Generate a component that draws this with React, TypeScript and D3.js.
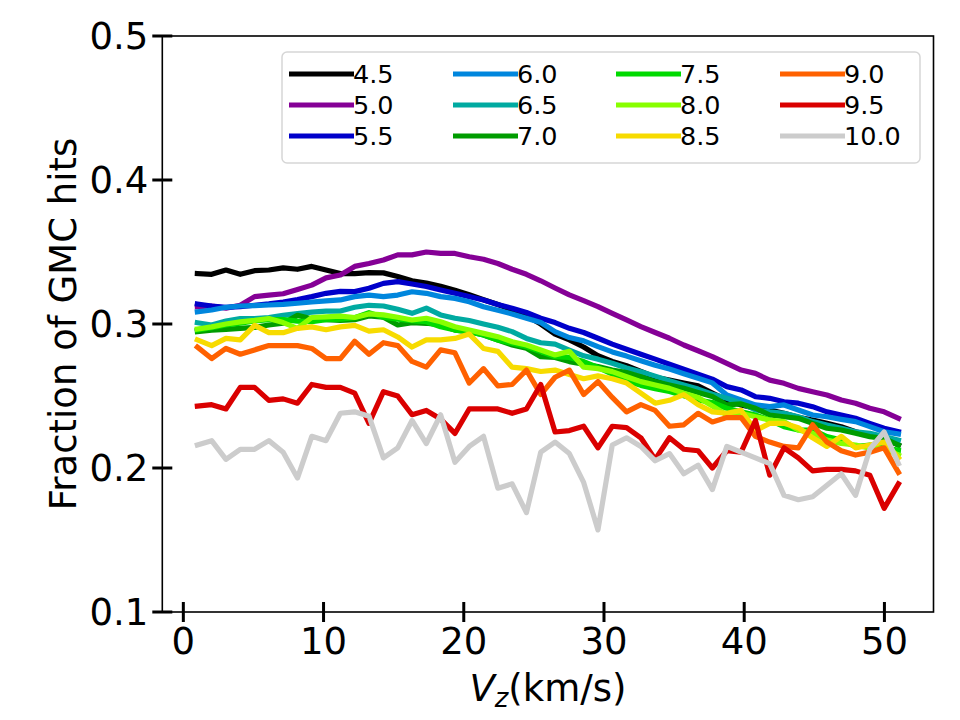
import React from 'react';
import * as d3 from 'd3';

// vertical velocity bins (km/s)
const vz = [
  1.00, 2.02, 3.04, 4.06, 5.08, 6.10, 7.12, 8.14, 9.16, 10.18,
  11.20, 12.22, 13.24, 14.27, 15.29, 16.31, 17.33, 18.35, 19.37, 20.39,
  21.41, 22.43, 23.45, 24.47, 25.49, 26.51, 27.53, 28.55, 29.57, 30.59,
  31.61, 32.63, 33.65, 34.67, 35.69, 36.71, 37.73, 38.76, 39.78, 40.80,
  41.82, 42.84, 43.86, 44.88, 45.90, 46.92, 47.94, 48.96, 49.98, 51.00,
];

const s45 = [
  0.335, 0.3345, 0.3375, 0.3345, 0.337, 0.3375, 0.339, 0.338, 0.340, 0.3375, 0.335, 0.335,
  0.3357, 0.3355, 0.333, 0.330, 0.3285, 0.3262, 0.3234, 0.3203, 0.3168, 0.3135, 0.3098, 0.3058, 0.300,
  0.293, 0.289, 0.284, 0.278, 0.274, 0.271, 0.267, 0.263, 0.261, 0.259, 0.257, 0.252,
  0.2472, 0.2438, 0.2415, 0.2403, 0.238, 0.2352, 0.2333, 0.231, 0.2287, 0.2252, 0.2229, 0.2206, 0.216,
];
const s50 = [
  0.312, 0.3125, 0.311, 0.313, 0.319, 0.320, 0.321, 0.324, 0.327, 0.332, 0.334, 0.340,
  0.342, 0.3444, 0.348, 0.348, 0.350, 0.349, 0.349, 0.3467, 0.345, 0.342, 0.338, 0.3345, 0.330,
  0.325, 0.3202, 0.3162, 0.3121, 0.3074, 0.3028, 0.2982, 0.2941, 0.2901, 0.2854, 0.2814, 0.2774,
  0.2727, 0.268, 0.2657, 0.261, 0.2588, 0.2553, 0.253, 0.2507, 0.2472, 0.245, 0.2415, 0.239, 0.2345,
];
const s55 = [
  0.3139, 0.3125, 0.3116, 0.312, 0.313, 0.314, 0.3153, 0.317, 0.319, 0.3213, 0.3227, 0.3225,
  0.3248, 0.3282, 0.3294, 0.3278, 0.326, 0.3236, 0.3213, 0.319, 0.3167, 0.3135, 0.311, 0.308, 0.304,
  0.301, 0.297, 0.2941, 0.2901, 0.286, 0.2825, 0.279, 0.2756, 0.2721, 0.2686, 0.2652, 0.2617,
  0.2565, 0.2542, 0.2495, 0.2484, 0.246, 0.245, 0.2426, 0.239, 0.2368, 0.2345, 0.231, 0.2276, 0.2252,
];
const s60 = [
  0.3085, 0.3097, 0.3116, 0.3125, 0.3128, 0.3132, 0.3136, 0.3144, 0.3153, 0.316, 0.3167, 0.319,
  0.3201, 0.319, 0.3201, 0.3224, 0.3213, 0.319, 0.3178, 0.3155, 0.312, 0.3095, 0.307, 0.304, 0.301,
  0.2947, 0.2906, 0.2883, 0.2843, 0.2806, 0.2777, 0.2745, 0.2713, 0.2688, 0.2655, 0.2623, 0.2591,
  0.2507, 0.2472, 0.2438, 0.2426, 0.2438, 0.2403, 0.2368, 0.2356, 0.2338, 0.2322, 0.2287, 0.2252, 0.2236,
];
const s65 = [
  0.3009, 0.2993, 0.3021, 0.3037, 0.3037, 0.3044, 0.306, 0.3072, 0.3083, 0.309, 0.309, 0.3116,
  0.313, 0.3125, 0.3102, 0.3074, 0.311, 0.3063, 0.304, 0.3024, 0.300, 0.2977, 0.2947, 0.290, 0.287,
  0.286, 0.2819, 0.2779, 0.2756, 0.2727, 0.2694, 0.2669, 0.2638, 0.2606, 0.2577, 0.2548, 0.2513,
  0.2484, 0.245, 0.2403, 0.239, 0.238, 0.2356, 0.2322, 0.2299, 0.2276, 0.2252, 0.2241, 0.2218, 0.2194,
];
const s70 = [
  0.2947, 0.2958, 0.2963, 0.297, 0.2977, 0.2993, 0.3005, 0.306, 0.3037, 0.303, 0.3025, 0.303,
  0.3056, 0.3047, 0.2993, 0.3009, 0.3005, 0.2993, 0.2958, 0.2947, 0.2924, 0.2889, 0.2854, 0.2831, 0.2773,
  0.2768, 0.2739, 0.2721, 0.2704, 0.2681, 0.2663, 0.2634, 0.260, 0.2577, 0.2554, 0.2525, 0.2496,
  0.2438, 0.2445, 0.2415, 0.2368, 0.2356, 0.2345, 0.231, 0.2276, 0.2264, 0.2241, 0.2218, 0.2206, 0.216,
];
const s75 = [
  0.2958, 0.2975, 0.2993, 0.3005, 0.3021, 0.303, 0.303, 0.302, 0.3016, 0.303, 0.3033, 0.3044,
  0.3079, 0.3047, 0.3033, 0.3023, 0.3016, 0.2981, 0.2958, 0.2947, 0.2924, 0.2889, 0.2866, 0.2842, 0.2808,
  0.2773, 0.2768, 0.2739, 0.2698, 0.2652, 0.2606, 0.2574, 0.2551, 0.2531, 0.2502, 0.2472, 0.2455,
  0.2415, 0.239, 0.2368, 0.2333, 0.2287, 0.2264, 0.2264, 0.2218, 0.2194, 0.2148, 0.216, 0.2137, 0.2125,
];
const s80 = [
  0.2965, 0.298, 0.300, 0.3015, 0.3025, 0.3038, 0.301, 0.297, 0.3045, 0.305, 0.3055, 0.3045,
  0.307, 0.3063, 0.3047, 0.3028, 0.304, 0.3016, 0.2981, 0.2958, 0.2935, 0.2912, 0.2877, 0.2854, 0.2819,
  0.2785, 0.281, 0.270, 0.269, 0.2669, 0.2634, 0.260, 0.2576, 0.2553, 0.2519, 0.249, 0.243,
  0.2368, 0.238, 0.2356, 0.2333, 0.2322, 0.2264, 0.2241, 0.2194, 0.2171, 0.216, 0.2137, 0.2137, 0.209,
];
const s85 = [
  0.289, 0.285, 0.290, 0.289, 0.299, 0.294, 0.294, 0.297, 0.298, 0.296,
  0.298, 0.299, 0.295, 0.296, 0.291, 0.284, 0.289, 0.289, 0.290, 0.293,
  0.283, 0.281, 0.270, 0.269, 0.267, 0.268, 0.265, 0.262, 0.264, 0.262,
  0.259, 0.252, 0.245, 0.247, 0.251, 0.244, 0.239, 0.238, 0.240, 0.226,
  0.231, 0.231, 0.228, 0.221, 0.215, 0.222, 0.214, 0.216, 0.218, 0.207,
];
const s90 = [
  0.284, 0.276, 0.283, 0.279, 0.282, 0.285, 0.285, 0.285, 0.283, 0.276,
  0.276, 0.288, 0.279, 0.287, 0.285, 0.274, 0.270, 0.282, 0.280, 0.259,
  0.269, 0.257, 0.258, 0.268, 0.251, 0.263, 0.268, 0.251, 0.260, 0.249,
  0.239, 0.244, 0.240, 0.229, 0.230, 0.238, 0.232, 0.235, 0.235, 0.222,
  0.218, 0.215, 0.214, 0.230, 0.218, 0.212, 0.209, 0.211, 0.214, 0.197,
];
const s95 = [
  0.243, 0.244, 0.241, 0.256, 0.256, 0.247, 0.248, 0.245, 0.258, 0.256,
  0.256, 0.252, 0.231, 0.253, 0.250, 0.237, 0.240, 0.234, 0.224, 0.241,
  0.241, 0.241, 0.238, 0.241, 0.258, 0.225, 0.226, 0.229, 0.214, 0.229,
  0.228, 0.221, 0.206, 0.221, 0.213, 0.212, 0.200, 0.212, 0.211, 0.233,
  0.195, 0.214, 0.207, 0.198, 0.199, 0.199, 0.198, 0.195, 0.172, 0.189,
];
const s100 = [
  0.216, 0.219, 0.206, 0.213, 0.213, 0.219, 0.211, 0.193, 0.222, 0.219,
  0.238, 0.239, 0.236, 0.207, 0.214, 0.233, 0.217, 0.237, 0.204, 0.215,
  0.222, 0.186, 0.189, 0.169, 0.211, 0.218, 0.210, 0.190, 0.157, 0.216,
  0.221, 0.215, 0.205, 0.210, 0.196, 0.202, 0.185, 0.215, 0.211, 0.207,
  0.203, 0.181, 0.178, 0.180, 0.188, 0.196, 0.181, 0.213, 0.225, 0.203,
];

const labels = ['4.5', '5.0', '5.5', '6.0', '6.5', '7.0', '7.5', '8.0', '8.5', '9.0', '9.5', '10.0'];
const series = [s45, s50, s55, s60, s65, s70, s75, s80, s85, s90, s95, s100];
// nipy_spectral sampled at 12 even steps
const colors = [
  '#000000', '#850096', '#0000ca', '#0086dd', '#00aaa1', '#009c00',
  '#00da00', '#88ff00', '#f7db00', '#ff6100', '#da0000', '#cccccc',
];

const xTicks = [0, 10, 20, 30, 40, 50];
const yTicks = [0.1, 0.2, 0.3, 0.4, 0.5];

const W = 960;
const H = 720;
const plot = { left: 162.3, right: 933.5, top: 36, bottom: 612 };
const font = 'DejaVu Sans, sans-serif';
const tickFont = 37;
const legendFont = 25.5;

export default function App() {
  const x = d3.scaleLinear().domain([-1.5, 53.5]).range([plot.left, plot.right]);
  const y = d3.scaleLinear().domain([0.1, 0.5]).range([plot.bottom, plot.top]);

  const line = d3
    .line<number>()
    .x((_, i) => x(vz[i]))
    .y((d) => y(d));

  // legend: 4 columns, filled column by column
  const lg = { x: 282, y: 52, w: 638, h: 111 };
  const colX = [289, 453, 616, 780];
  const rowY = [74, 105, 136];
  const handleLen = 65;

  return (
    <svg
      width={W}
      height={H}
      viewBox={`0 0 ${W} ${H}`}
      style={{ position: 'absolute', left: 0, top: 0, display: 'block', background: '#fff' }}
      fontFamily={font}
    >
      <rect x={0} y={0} width={W} height={H} fill="#fff" />

      <defs>
        <clipPath id="plot-clip">
          <rect x={plot.left} y={plot.top} width={plot.right - plot.left} height={plot.bottom - plot.top} />
        </clipPath>
      </defs>

      <g clipPath="url(#plot-clip)">
        {series.map((s, i) => (
          <path
            key={labels[i]}
            d={line(s) ?? ''}
            fill="none"
            stroke={colors[i]}
            strokeWidth={5.2}
            strokeLinejoin="round"
            strokeLinecap="square"
          />
        ))}
      </g>

      {/* frame */}
      <rect
        x={plot.left}
        y={plot.top}
        width={plot.right - plot.left}
        height={plot.bottom - plot.top}
        fill="none"
        stroke="#000"
        strokeWidth={1.6}
      />

      {/* y axis */}
      {yTicks.map((t) => (
        <g key={`y${t}`}>
          <line x1={plot.left - 10} x2={plot.left + 10} y1={y(t)} y2={y(t)} stroke="#000" strokeWidth={3} />
          <text x={plot.left - 14} y={y(t)} dy="0.36em" textAnchor="end" fontSize={tickFont} fill="#000">
            {t.toFixed(1)}
          </text>
        </g>
      ))}

      {/* x axis */}
      {xTicks.map((t) => (
        <g key={`x${t}`}>
          <line x1={x(t)} x2={x(t)} y1={plot.bottom - 10} y2={plot.bottom + 10} stroke="#000" strokeWidth={3} />
          <text x={x(t)} y={plot.bottom + 42} textAnchor="middle" fontSize={tickFont} fill="#000">
            {t}
          </text>
        </g>
      ))}

      <text
        x={(plot.left + plot.right) / 2}
        y={701}
        textAnchor="middle"
        fontSize={tickFont}
        fill="#000"
      >
        <tspan fontStyle="italic">V</tspan>
        <tspan fontStyle="italic" fontSize={tickFont * 0.7} dy={6}>z</tspan>
        <tspan dy={-6}>(km/s)</tspan>
      </text>

      <text
        transform={`translate(76, ${(plot.top + plot.bottom) / 2}) rotate(-90)`}
        textAnchor="middle"
        fontSize={tickFont}
        fill="#000"
      >
        Fraction of GMC hits
      </text>

      {/* legend */}
      <rect
        x={lg.x}
        y={lg.y}
        width={lg.w}
        height={lg.h}
        rx={5}
        fill="#fff"
        fillOpacity={0.8}
        stroke="#d6d6d6"
        strokeWidth={1.5}
      />
      {labels.map((lab, i) => {
        const c = Math.floor(i / 3);
        const r = i % 3;
        const x0 = colX[c];
        const yy = rowY[r];
        return (
          <g key={`lg${lab}`}>
            <line
              x1={x0}
              x2={x0 + handleLen}
              y1={yy}
              y2={yy}
              stroke={colors[i]}
              strokeWidth={5.2}
            />
            <text x={x0 + handleLen - 1} y={yy} dy="0.36em" fontSize={legendFont} fill="#000">
              {lab}
            </text>
          </g>
        );
      })}
    </svg>
  );
}
